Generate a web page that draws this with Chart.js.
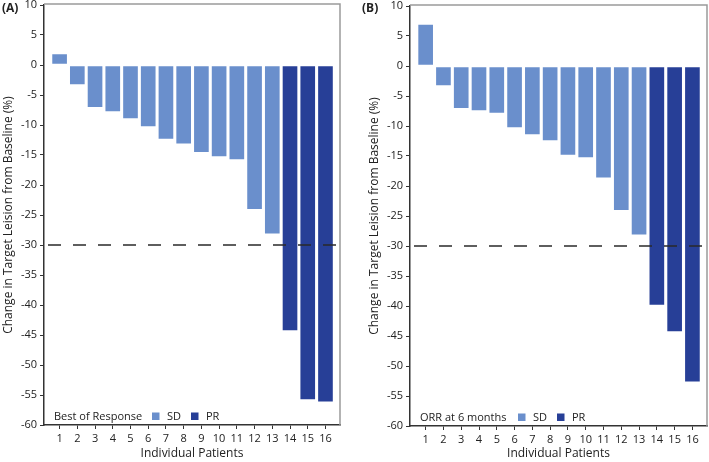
<!DOCTYPE html>
<html>
<head>
<meta charset="utf-8">
<script src="https://cdn.jsdelivr.net/npm/chart.js@4.4.1/dist/chart.umd.min.js"></script>
<style>
	body {margin:0; background:#fff; width:709px; height:462px; position:relative; overflow:hidden; font-family:"Open Sans", sans-serif;}
	.panel {position:absolute; top:0; height:462px;}
	.tag {position:absolute; top:-1px; font-weight:bold; font-size:12px; color:#222;}
</style>
</head>
<body>
<div class="panel" style="left:0;width:355px;"><canvas id="chartA"></canvas></div>
<div class="panel" style="left:355px;width:354px;"><canvas id="chartB"></canvas></div>
<div class="tag" style="left:2px;">(A)</div>
<div class="tag" style="left:362px;">(B)</div>
<script>
var patients = [1,2,3,4,5,6,7,8,9,10,11,12,13,14,15,16];
var changeBestResponse = [1.9,-3.3,-7.1,-7.8,-9.0,-10.3,-12.4,-13.2,-14.6,-15.3,-15.8,-24.1,-28.2,-44.3,-55.8,-56.2];
var responseBest = ['SD','SD','SD','SD','SD','SD','SD','SD','SD','SD','SD','SD','SD','PR','PR','PR'];
var change6Months = [7.0,-3.3,-7.1,-7.5,-7.9,-10.3,-11.5,-12.5,-14.9,-15.3,-18.7,-24.1,-28.2,-39.9,-44.3,-52.7];
var response6Months = ['SD','SD','SD','SD','SD','SD','SD','SD','SD','SD','SD','SD','SD','PR','PR','PR'];
var responseTypes = ['SD','PR'];
var threshold = -30;

var colors = {SD:'#6a8fcc', PR:'#273f97'};
var FONT = '"Open Sans", sans-serif';

// gray frame on top and right of plot
var framePlugin = {
	id: 'frame',
	beforeDatasetsDraw: function(chart) {
		var a = chart.chartArea, ctx = chart.ctx;
		ctx.save();
		ctx.strokeStyle = '#9a9a9a';
		ctx.lineWidth = 1.5;
		ctx.beginPath();
		ctx.moveTo(a.left, a.top - 1);
		ctx.lineTo(a.right, a.top - 1);
		ctx.lineTo(a.right, a.bottom);
		ctx.stroke();
		ctx.restore();
	}
};

// -30% dashed line, drawn on top of the bars
var thresholdPlugin = {
	id: 'threshold',
	afterDatasetsDraw: function(chart) {
		var a = chart.chartArea, ctx = chart.ctx;
		var y = chart.scales.y.getPixelForValue(threshold);
		ctx.save();
		ctx.strokeStyle = '#2a2a2a';
		ctx.lineWidth = 1.3;
		ctx.setLineDash([13,12]);
		ctx.lineDashOffset = 21;
		ctx.beginPath();
		ctx.moveTo(a.left, y);
		ctx.lineTo(a.right, y);
		ctx.stroke();
		ctx.restore();
	}
};

// legend in lower left corner of plot
var legendPlugin = {
	id: 'boxLegend',
	afterDraw: function(chart, args, opts) {
		var a = chart.chartArea, ctx = chart.ctx;
		var y = a.bottom - 8.5;
		ctx.save();
		ctx.font = '11px ' + FONT;
		ctx.fillStyle = '#222';
		ctx.textBaseline = 'middle';
		ctx.fillText(opts.title, a.left + 10, y);
		var x = a.left + 108;
		responseTypes.forEach(function(r) {
			ctx.fillStyle = colors[r];
			ctx.fillRect(x, y - 4, 7.5, 7.5);
			ctx.fillStyle = '#222';
			ctx.fillText(r, x + 15, y);
			x += 39;
		});
		ctx.restore();
	}
};

function makePanel(canvasId, values, responses, legendTitle, pad) {
	var points = patients.map(function(p, i) { return {x:p, y:values[i]}; });
	var config = {
		type: 'bar',
		data: {
			datasets: [{
				data: points,
				backgroundColor: responses.map(function(r) { return colors[r]; }),
				borderColor: 'rgba(255,255,255,0.55)',
				borderWidth: 1,
				borderSkipped: false,
				barThickness: 16
			}]
		},
		options: {
			responsive: false,
			animation: false,
			layout: {padding: {left:pad.left, right:pad.right, top:pad.top, bottom:0}},
			plugins: {
				legend: {display:false},
				tooltip: {enabled:false},
				boxLegend: {title: legendTitle}
			},
			scales: {
				x: {
					type: 'linear',
					offset: false,
					min: 0.12,
					max: 16.82,
					afterFit: function(scale) {
						scale.height = pad.xHeight;
						scale.paddingLeft = 0;
						scale.paddingRight = 0;
					},
					afterBuildTicks: function(scale) {
						scale.ticks = patients.map(function(p) { return {value:p}; });
					},
					grid: {drawOnChartArea:false, offset:false, tickLength:4, color:'#333', lineWidth:1},
					border: {color:'#333', width:1.5},
					ticks: {color:'#222', font:{family:FONT, size:11}, padding:3, maxRotation:0, autoSkip:false},
					title: {display:true, text:'Individual Patients', color:'#222', font:{family:FONT, size:12}, padding:{top:0, bottom:1}}
				},
				y: {
					min: -60,
					max: 10,
					afterFit: function(scale) {
						scale.width = 44;
						scale.paddingTop = 0;
						scale.paddingBottom = 0;
					},
					grid: {drawOnChartArea:false, tickLength:4, color:'#333', lineWidth:1},
					border: {color:'#333', width:1.5},
					ticks: {stepSize:5, color:'#222', font:{family:FONT, size:11}, padding:3},
					title: {display:true, text:'Change in Target Leision from Baseline (%)', color:'#222', font:{family:FONT, size:12}, padding:{top:1, bottom:0}}
				}
			}
		},
		plugins: [framePlugin, thresholdPlugin, legendPlugin]
	};
	var canvas = document.getElementById(canvasId);
	canvas.width = pad.w;
	canvas.height = 462;
	return new Chart(canvas, config);
}

makePanel('chartA', changeBestResponse, responseBest, 'Best of Response', {left:0, right:15, top:5, xHeight:37, w:355});
makePanel('chartB', change6Months, response6Months, 'ORR at 6 months', {left:11, right:2, top:6, xHeight:36, w:354});
</script>
</body>
</html>
